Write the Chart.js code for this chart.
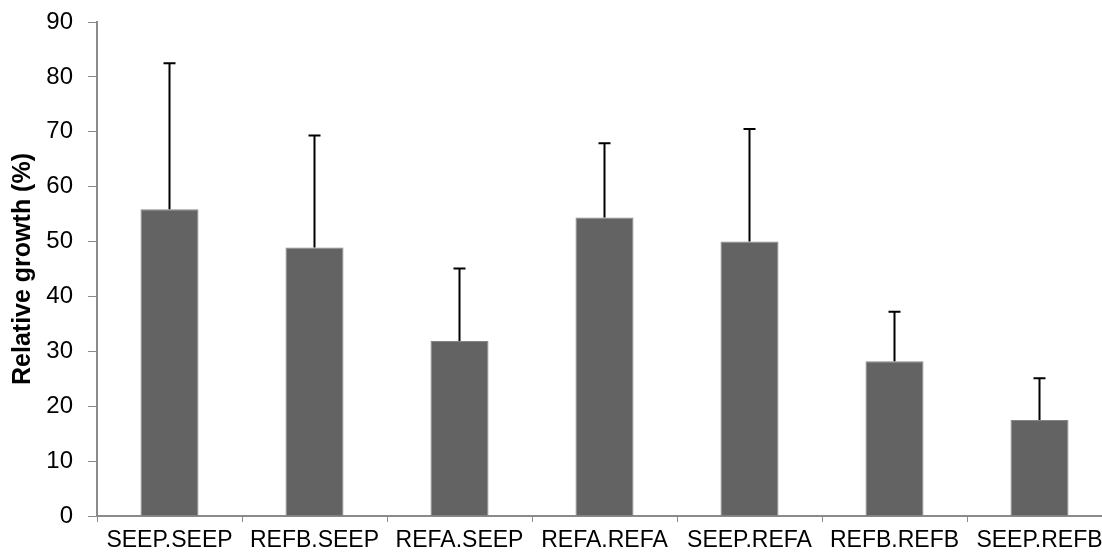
<!DOCTYPE html>
<html>
<head>
<meta charset="utf-8">
<script src="https://cdn.jsdelivr.net/npm/chart.js@4.4.0/dist/chart.umd.min.js"></script>
<style>
  body { margin: 0; overflow: hidden; background: #fff; }
  #wrap { width: 1112px; height: 557px; }
</style>
</head>
<body>
<div id="wrap"><canvas id="myChart"></canvas></div>
<script>
const labels1 = ["SEEP.SEEP", "REFB.SEEP", "REFA.SEEP", "REFA.REFA", "SEEP.REFA", "REFB.REFB", "SEEP.REFB"]
const means = [55.9, 48.9, 31.9, 54.4, 50.0, 28.2, 17.5]
const errUp = [26.6, 20.4, 13.2, 13.5, 20.5, 9.0, 7.6]
const yTicks = [0, 10, 20, 30, 40, 50, 60, 70, 80, 90]

const axisGray = "#8a8a8a"

// draws the upper error whiskers from the errUp array
const errorBars = {
	id: "errorBars",
	afterDatasetsDraw(chart) {
		const ctx = chart.ctx
		const meta = chart.getDatasetMeta(0)
		const y = chart.scales.y
		ctx.save()
		ctx.strokeStyle = "#000"
		ctx.lineWidth = 2
		meta.data.forEach((bar, i) => {
			const top = y.getPixelForValue(means[i] + errUp[i])
			const base = y.getPixelForValue(means[i])
			ctx.beginPath()
			ctx.moveTo(bar.x, base)
			ctx.lineTo(bar.x, top)
			ctx.moveTo(bar.x - 6, top)
			ctx.lineTo(bar.x + 6, top)
			ctx.stroke()
		})
		ctx.restore()
	}
}

let myChart1 = document.getElementById("myChart").getContext('2d')

let chart1 = new Chart(myChart1, {
	type: "bar",
	data: {
		labels: labels1,
		datasets: [{
			data: means,
			backgroundColor: "#636363",
			borderColor: "#858585",
			borderWidth: 1,
			barPercentage: 0.4,
			categoryPercentage: 1.0
		}]
	},
	options: {
		responsive: true,
		maintainAspectRatio: false,
		animation: false,
		layout: { padding: { top: 22, left: 0, right: 0, bottom: 0 } },
		plugins: {
			legend: { display: false },
			tooltip: { enabled: false }
		},
		scales: {
			x: {
				grid: { drawOnChartArea: false, drawTicks: true, tickLength: 6, color: axisGray, offset: true },
				border: { display: true, color: axisGray, width: 2 },
				ticks: {
					color: "#000",
					font: { family: "Liberation Sans", size: 23 },
					padding: 5,
					maxRotation: 0,
					autoSkip: false
				},
				afterFit(scale) {
					scale.height = 41
					scale.paddingLeft = 0
					scale.paddingRight = 0
				}
			},
			y: {
				min: 0,
				max: 90,
				afterBuildTicks(scale) { scale.ticks = yTicks.map(v => ({ value: v })) },
				grid: { drawOnChartArea: false, drawTicks: true, tickLength: 9, color: axisGray },
				border: { display: true, color: axisGray, width: 2 },
				ticks: {
					color: "#000",
					font: { family: "Liberation Sans", size: 24 },
					padding: 15
				},
				title: {
					display: true,
					text: "Relative growth (%)",
					color: "#000",
					font: { family: "Liberation Sans", size: 25, weight: "bold" },
					padding: { top: 8, bottom: 0 }
				},
				afterFit(scale) {
					scale.width = 97
					scale.paddingTop = 0
					scale.paddingBottom = 0
				}
			}
		}
	},
	plugins: [errorBars]
})
</script>
</body>
</html>
